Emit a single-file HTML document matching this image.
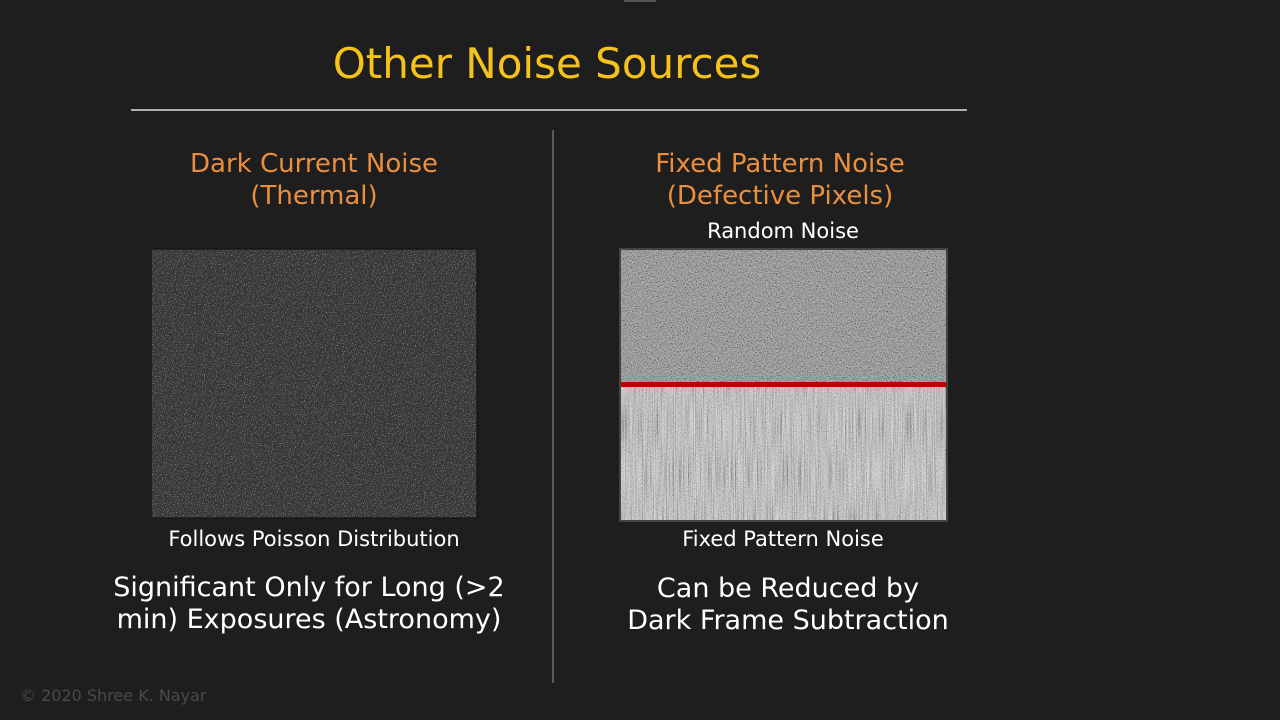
<!DOCTYPE html>
<html><head><meta charset="utf-8"><style>
body{margin:0;width:1280px;height:720px;background:#1e1e1e;position:relative;overflow:hidden;font-family:"DejaVu Sans","Liberation Sans",sans-serif}
.t{position:absolute;text-align:center;white-space:nowrap}
</style></head><body>
<div style="position:absolute;left:624px;top:0;width:32px;height:2px;background:#555"></div>
<div class="t" style="left:247px;width:600px;top:39px;font-size:42px;color:#f5c21b">Other Noise Sources</div>
<div style="position:absolute;left:131px;top:109px;width:836px;height:2px;background:#b0b0b0"></div>
<div style="position:absolute;left:552px;top:130px;width:2px;height:553px;background:#5a5a5a"></div>

<div class="t" style="left:114px;width:400px;top:148px;font-size:26px;line-height:32px;color:#ec8f3c">Dark Current Noise<br>(Thermal)</div>
<div class="t" style="left:580px;width:400px;top:148px;font-size:26px;line-height:32px;color:#ec8f3c">Fixed Pattern Noise<br>(Defective Pixels)</div>
<div class="t" style="left:633px;width:300px;top:219px;font-size:21px;color:#fff">Random Noise</div>

<svg style="position:absolute;left:0;top:0" width="1280" height="720">
<defs>
<filter id="n1" x="0" y="0" width="100%" height="100%"><feTurbulence type="fractalNoise" baseFrequency="0.9" numOctaves="1" seed="3"/><feColorMatrix type="matrix" values="0 0 0 0 1  0 0 0 0 1  0 0 0 0 1  3 0 0 0 -1.6"/></filter>
<filter id="n3" x="0" y="0" width="100%" height="100%"><feTurbulence type="fractalNoise" baseFrequency="0.8" numOctaves="1" seed="7"/><feColorMatrix type="matrix" values="2 0 0 0 -0.5  2 0 0 0 -0.5  2 0 0 0 -0.5  0 0 0 0 0.45"/></filter>
<filter id="n4" x="0" y="0" width="100%" height="100%"><feTurbulence type="fractalNoise" baseFrequency="0.9 0.02" numOctaves="1" seed="9"/><feColorMatrix type="matrix" values="2 0 0 0 -0.5  2 0 0 0 -0.5  2 0 0 0 -0.5  0 0 0 0 0.3"/></filter>
</defs>
<rect x="151" y="249" width="326" height="269" fill="#363636" stroke="#111" stroke-width="1"/>
<rect x="152" y="250" width="324" height="267" fill="#fff" filter="url(#n1)" opacity="0.6"/>
<rect x="620" y="249" width="327" height="136" fill="#828282" stroke="#444" stroke-width="2"/>
<rect x="621" y="250" width="325" height="134" filter="url(#n3)"/>
<rect x="620" y="385" width="327" height="136" fill="#c4c4c4" stroke="#444" stroke-width="2"/>
<rect x="621" y="386" width="325" height="134" filter="url(#n3)" opacity="0.8"/>
<rect x="621" y="386" width="325" height="134" filter="url(#n4)"/>
<rect x="621" y="382" width="325" height="5" fill="#c00000"/>
</svg>

<div class="t" style="left:114px;width:400px;top:527px;font-size:21px;color:#fff">Follows Poisson Distribution</div>
<div class="t" style="left:633px;width:300px;top:527px;font-size:21px;color:#fff">Fixed Pattern Noise</div>
<div class="t" style="left:79px;width:460px;top:572px;font-size:27px;line-height:32px;color:#fff">Significant Only for Long (&gt;2<br>min) Exposures (Astronomy)</div>
<div class="t" style="left:558px;width:460px;top:573px;font-size:27px;line-height:32px;color:#fff">Can be Reduced by<br>Dark Frame Subtraction</div>
<div class="t" style="left:20px;top:686px;font-size:16px;color:#4a4a4a;text-align:left">© 2020 Shree K. Nayar</div>
</body></html>
